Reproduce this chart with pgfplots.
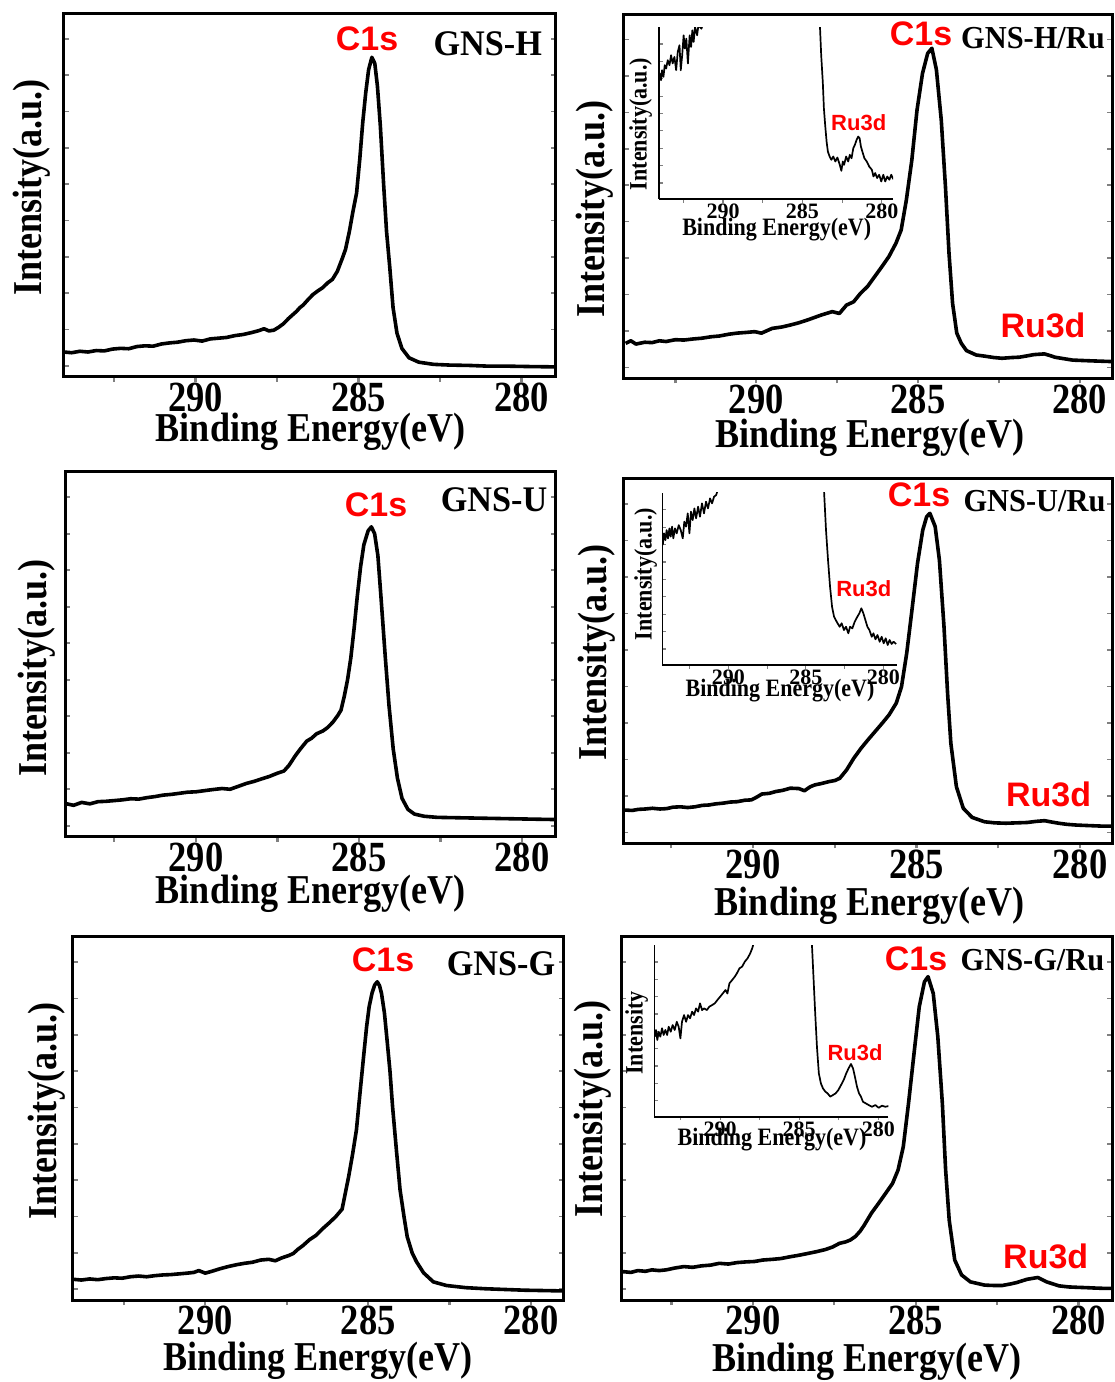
\documentclass[border=0pt]{standalone}
\usepackage{fontspec}
\usepackage{pgfplots}
\pgfplotsset{compat=1.18}
\newfontfamily\tnrT[FakeStretch=0.85]{Liberation Serif}
\newfontfamily\tnrL[FakeStretch=0.88]{Liberation Serif}
\newfontfamily\tnrG[FakeStretch=0.95]{Liberation Serif}
\newfontfamily\tnr{Liberation Serif}
\newfontfamily\arl{Liberation Sans}
\newcommand\tickf{\tnrT\bfseries\fontsize{43}{43}\selectfont}
\newcommand\labf{\tnrL\bfseries\fontsize{41}{41}\selectfont}
\newcommand\gnsL{\tnrG\bfseries\fontsize{36}{36}\selectfont}
\newcommand\gnsR{\tnrG\bfseries\fontsize{32}{32}\selectfont}
\newcommand\cls{\arl\bfseries\fontsize{34}{34}\selectfont}
\newcommand\itick{\tnr\bfseries\fontsize{22}{22}\selectfont}
\newcommand\ilab{\tnrL\bfseries\fontsize{25}{25}\selectfont}
\newcommand\iru{\arl\bfseries\fontsize{22}{22}\selectfont}
\pgfplotsset{
 mainax/.style={scale only axis, x dir=reverse, ymin=0, ymax=1, anchor=south west,
   axis line style={line width=3pt},
   xtick={280,282.5,285,287.5,290,292.5}, xticklabels={280,,285,,290,},
   xtick pos=bottom, ytick pos=both,
   ytick={0.03,0.13,0.23,0.33,0.43,0.53,0.63,0.73,0.83,0.93}, yticklabels={},
   tick align=inside, major tick length=5pt,
   xtick style={line width=2.2pt, yshift=-5pt}, ytick style={line width=1.6pt},
   xticklabel style={font=\tickf, inner sep=0pt, yshift=-6pt}},
 inax/.style={scale only axis, x dir=reverse, ymin=0, ymax=1, anchor=south west,
   axis x line*=bottom, axis y line*=left, axis line style={line width=1.6pt},
   xtick={280,282.5,285,287.5,290,292.5}, xticklabels={280,,285,,290,},
   ytick={0.093,0.194,0.295,0.396,0.497,0.598,0.699,0.8,0.901}, yticklabels={},
   tick align=inside, major tick length=3.5pt,
   xtick style={line width=1.2pt, yshift=-3.5pt}, ytick style={line width=1.2pt},
   xticklabel style={font=\itick, inner sep=0pt, yshift=-5pt}},
 spec/.style={black, line width=3.6pt, no markers, line join=round},
 ispec/.style={black, line width=1.7pt, no markers, line join=round},
}
\begin{document}
\begin{tikzpicture}
\useasboundingbox (0,0) rectangle (1115pt,-1382pt);
% ---------- Panel 1: GNS-H ----------
\begin{axis}[mainax, at={(63.6pt,-376.7pt)}, width=492.4pt, height=363.4pt, xmin=278.94, xmax=294.05]
\addplot[spec] coordinates {(294.05,0.068)(293.8,0.066)(293.55,0.070)(293.3,0.068)(293.05,0.072)(292.8,0.071)(292.55,0.076)(292.3,0.078)(292.05,0.077)(291.8,0.083)(291.55,0.085)(291.3,0.084)(291.05,0.090)(290.8,0.093)(290.55,0.095)(290.3,0.099)(290.05,0.101)(289.8,0.098)(289.55,0.104)(289.3,0.106)(289.05,0.108)(288.8,0.113)(288.55,0.116)(288.3,0.121)(288.05,0.127)(287.9,0.132)(287.75,0.126)(287.6,0.128)(287.45,0.136)(287.3,0.146)(287.15,0.160)(287.0,0.172)(286.9,0.180)(286.8,0.190)(286.7,0.197)(286.55,0.212)(286.4,0.226)(286.25,0.236)(286.1,0.245)(285.95,0.258)(285.8,0.268)(285.65,0.290)(285.5,0.325)(285.4,0.350)(285.28,0.400)(285.17,0.455)(285.06,0.505)(284.96,0.600)(284.87,0.700)(284.78,0.780)(284.69,0.845)(284.59,0.879)(284.5,0.862)(284.42,0.800)(284.33,0.690)(284.23,0.530)(284.14,0.400)(284.04,0.300)(283.94,0.190)(283.82,0.120)(283.67,0.078)(283.45,0.052)(283.15,0.040)(282.7,0.034)(282.2,0.032)(281.6,0.031)(281.0,0.029)(280.4,0.029)(279.8,0.028)(278.94,0.027)};
\end{axis}
% ---------- Panel 2: GNS-H/Ru ----------
\begin{axis}[mainax, at={(623.7pt,-378.3pt)}, width=488.3pt, height=364.3pt, xmin=279.0, xmax=294.1]
\addplot[spec] coordinates {(294.04,0.096)(293.88,0.103)(293.72,0.094)(293.45,0.099)(293.22,0.098)(293.0,0.103)(292.79,0.101)(292.5,0.106)(292.24,0.105)(291.95,0.108)(291.69,0.110)(291.4,0.114)(291.15,0.116)(290.85,0.121)(290.6,0.124)(290.3,0.126)(290.05,0.128)(289.84,0.124)(289.51,0.137)(289.2,0.141)(288.96,0.146)(288.7,0.152)(288.42,0.160)(288.2,0.167)(287.98,0.174)(287.65,0.183)(287.43,0.178)(287.21,0.201)(286.99,0.210)(286.78,0.233)(286.56,0.252)(286.34,0.279)(286.12,0.306)(285.9,0.334)(285.68,0.371)(285.52,0.407)(285.36,0.489)(285.19,0.599)(285.03,0.736)(284.86,0.837)(284.7,0.892)(284.57,0.906)(284.43,0.847)(284.28,0.709)(284.15,0.526)(284.04,0.343)(283.93,0.206)(283.8,0.124)(283.66,0.096)(283.5,0.076)(283.2,0.064)(282.95,0.061)(282.65,0.057)(282.4,0.055)(282.1,0.057)(281.86,0.058)(281.6,0.062)(281.42,0.065)(281.09,0.067)(280.9,0.062)(280.77,0.058)(280.5,0.054)(280.22,0.050)(279.95,0.049)(279.67,0.048)(279.35,0.047)(279.02,0.046)};
\end{axis}
% inset 1
\begin{axis}[inax, at={(659pt,-199pt)}, width=234pt, height=172pt, xmin=279.3, xmax=294.03]
\addplot[ispec] coordinates {(294.06,0.653)(293.99,0.730)(293.9,0.691)(293.84,0.749)(293.75,0.71)(293.67,0.778)(293.58,0.759)(293.48,0.807)(293.37,0.778)(293.27,0.836)(293.17,0.788)(293.06,0.826)(292.95,0.749)(292.85,0.855)(292.74,0.894)(292.66,0.749)(292.57,0.836)(292.48,0.952)(292.4,0.875)(292.31,0.932)(292.21,0.788)(292.1,0.952)(292.01,0.884)(291.93,0.981)(291.85,0.913)(291.76,1.0)(291.63,0.952)(291.55,1.01)(291.36,0.99)(291.25,1.02)(290.93,1.01)(290.61,1.01)(289.5,1.6)(284.6,6)(283.95,1.3)(283.91,1.03)(283.82,0.836)(283.72,0.681)(283.65,0.527)(283.57,0.43)(283.48,0.334)(283.4,0.276)(283.29,0.247)(283.18,0.228)(283.06,0.247)(282.93,0.218)(282.8,0.241)(282.65,0.199)(282.55,0.164)(282.46,0.218)(282.38,0.199)(282.25,0.247)(282.12,0.218)(282.02,0.257)(281.91,0.237)(281.8,0.295)(281.7,0.315)(281.59,0.344)(281.49,0.363)(281.4,0.353)(281.32,0.305)(281.23,0.276)(281.1,0.237)(280.95,0.218)(280.8,0.189)(280.63,0.17)(280.53,0.131)(280.42,0.151)(280.3,0.122)(280.17,0.141)(280.04,0.102)(279.91,0.141)(279.79,0.102)(279.66,0.131)(279.53,0.112)(279.41,0.141)(279.3,0.118)(279.19,0.131)};
\end{axis}
% ---------- Panel 3: GNS-U ----------
\begin{axis}[mainax, at={(65.4pt,-836.7pt)}, width=490.6pt, height=365pt, xmin=278.96, xmax=294.0]
\addplot[spec] coordinates {(294.0,0.091)(293.75,0.086)(293.5,0.094)(293.25,0.090)(293.0,0.096)(292.75,0.097)(292.5,0.099)(292.25,0.101)(292.0,0.104)(291.75,0.103)(291.5,0.107)(291.25,0.110)(291.0,0.114)(290.75,0.116)(290.5,0.119)(290.25,0.122)(290.0,0.123)(289.75,0.126)(289.5,0.129)(289.2,0.132)(288.95,0.130)(288.7,0.138)(288.45,0.146)(288.2,0.152)(288.0,0.158)(287.75,0.165)(287.5,0.174)(287.3,0.180)(287.15,0.195)(286.95,0.222)(286.8,0.240)(286.6,0.262)(286.45,0.270)(286.3,0.282)(286.1,0.290)(285.95,0.300)(285.8,0.314)(285.65,0.332)(285.55,0.347)(285.45,0.385)(285.35,0.430)(285.25,0.490)(285.15,0.570)(285.05,0.660)(284.95,0.740)(284.85,0.800)(284.72,0.838)(284.62,0.849)(284.52,0.830)(284.42,0.770)(284.32,0.650)(284.2,0.500)(284.08,0.360)(283.95,0.240)(283.82,0.160)(283.68,0.105)(283.5,0.075)(283.3,0.062)(283.0,0.056)(282.6,0.053)(282.0,0.052)(281.4,0.051)(280.8,0.050)(280.2,0.049)(279.6,0.048)(278.96,0.047)};
\end{axis}
% ---------- Panel 4: GNS-U/Ru ----------
\begin{axis}[mainax, at={(623pt,-843.3pt)}, width=489pt, height=365pt, xmin=279.02, xmax=293.98]
\addplot[spec] coordinates {(293.98,0.090)(293.89,0.091)(293.7,0.090)(293.51,0.093)(293.3,0.094)(293.08,0.096)(292.85,0.094)(292.65,0.095)(292.45,0.099)(292.22,0.100)(292.0,0.098)(291.78,0.100)(291.55,0.104)(291.35,0.105)(291.15,0.108)(290.92,0.110)(290.7,0.113)(290.49,0.114)(290.25,0.118)(290.05,0.119)(289.9,0.126)(289.73,0.135)(289.5,0.137)(289.3,0.142)(289.1,0.145)(288.86,0.151)(288.6,0.150)(288.43,0.144)(288.25,0.155)(288.11,0.160)(287.9,0.164)(287.68,0.169)(287.5,0.172)(287.35,0.178)(287.14,0.201)(286.92,0.233)(286.7,0.260)(286.49,0.283)(286.27,0.306)(286.05,0.329)(285.84,0.352)(285.62,0.384)(285.46,0.429)(285.3,0.521)(285.14,0.639)(284.97,0.767)(284.81,0.858)(284.69,0.895)(284.59,0.904)(284.43,0.868)(284.3,0.776)(284.16,0.594)(284.05,0.411)(283.95,0.274)(283.78,0.155)(283.57,0.096)(283.3,0.071)(282.92,0.059)(282.6,0.056)(282.27,0.055)(281.95,0.056)(281.62,0.057)(281.35,0.060)(281.08,0.062)(280.85,0.058)(280.65,0.055)(280.4,0.052)(280.11,0.050)(279.85,0.049)(279.57,0.048)(279.3,0.047)(279.02,0.047)};
\end{axis}
% inset 2
\begin{axis}[inax, at={(662.3pt,-665pt)}, width=234.4pt, height=172.3pt, xmin=279.14, xmax=294.26]
\addplot[ispec] coordinates {(294.23,0.696)(294.15,0.764)(294.06,0.725)(293.98,0.783)(293.89,0.735)(293.8,0.793)(293.72,0.745)(293.63,0.803)(293.55,0.735)(293.44,0.793)(293.33,0.764)(293.2,0.812)(293.07,0.783)(292.94,0.735)(292.84,0.832)(292.73,0.803)(292.62,0.88)(292.51,0.764)(292.41,0.89)(292.3,0.841)(292.19,0.909)(292.08,0.851)(291.95,0.919)(291.83,0.861)(291.7,0.938)(291.57,0.88)(291.44,0.948)(291.31,0.909)(291.18,0.967)(291.05,0.938)(290.92,0.977)(290.79,0.986)(290.64,1.025)(290.0,1.4)(284.6,6)(284.0,1.3)(283.83,1.015)(283.7,0.783)(283.57,0.609)(283.44,0.455)(283.31,0.338)(283.18,0.28)(283.01,0.251)(282.82,0.222)(282.69,0.242)(282.54,0.203)(282.41,0.222)(282.26,0.184)(282.15,0.222)(282.0,0.213)(281.85,0.251)(281.68,0.28)(281.55,0.3)(281.42,0.329)(281.29,0.3)(281.16,0.261)(281.03,0.222)(280.9,0.203)(280.75,0.164)(280.64,0.184)(280.51,0.149)(280.38,0.174)(280.24,0.135)(280.11,0.164)(279.98,0.126)(279.85,0.155)(279.72,0.116)(279.6,0.145)(279.47,0.122)(279.34,0.135)(279.18,0.122)};
\end{axis}
% ---------- Panel 5: GNS-G ----------
\begin{axis}[mainax, at={(72.7pt,-1300pt)}, width=490.9pt, height=363.3pt, xmin=279.0, xmax=294.07]
\addplot[spec] coordinates {(294.05,0.057)(293.8,0.055)(293.55,0.058)(293.3,0.056)(293.05,0.059)(292.8,0.061)(292.55,0.060)(292.3,0.064)(292.05,0.066)(291.8,0.064)(291.55,0.067)(291.3,0.069)(291.05,0.070)(290.8,0.072)(290.55,0.074)(290.35,0.076)(290.2,0.081)(290.0,0.074)(289.8,0.079)(289.55,0.086)(289.3,0.092)(289.05,0.097)(288.8,0.101)(288.55,0.104)(288.3,0.110)(288.05,0.112)(287.85,0.108)(287.65,0.116)(287.45,0.122)(287.3,0.128)(287.15,0.140)(287.0,0.150)(286.8,0.166)(286.6,0.178)(286.4,0.196)(286.2,0.212)(286.0,0.229)(285.8,0.250)(285.6,0.339)(285.48,0.400)(285.36,0.468)(285.25,0.570)(285.14,0.670)(285.05,0.750)(284.97,0.807)(284.88,0.845)(284.8,0.867)(284.72,0.876)(284.65,0.865)(284.59,0.844)(284.5,0.790)(284.42,0.716)(284.33,0.630)(284.25,0.532)(284.13,0.410)(284.02,0.303)(283.9,0.230)(283.8,0.174)(283.65,0.130)(283.52,0.106)(283.3,0.075)(283.0,0.050)(282.6,0.040)(282.0,0.034)(281.4,0.031)(280.8,0.029)(280.2,0.027)(279.6,0.026)(279.0,0.025)};
\end{axis}
% ---------- Panel 6: GNS-G/Ru ----------
\begin{axis}[mainax, at={(621pt,-1300pt)}, width=491pt, height=363.3pt, xmin=278.97, xmax=294.05]
\addplot[spec] coordinates {(294.05,0.076)(293.97,0.078)(293.75,0.076)(293.53,0.081)(293.3,0.079)(293.1,0.083)(292.88,0.081)(292.66,0.083)(292.4,0.088)(292.12,0.092)(291.85,0.090)(291.58,0.094)(291.3,0.096)(291.03,0.101)(290.75,0.099)(290.49,0.103)(290.2,0.105)(289.95,0.106)(289.7,0.110)(289.4,0.112)(289.15,0.114)(288.86,0.119)(288.6,0.123)(288.32,0.128)(288.05,0.133)(287.77,0.139)(287.55,0.146)(287.34,0.156)(287.15,0.160)(287.01,0.165)(286.85,0.175)(286.7,0.190)(286.58,0.206)(286.36,0.239)(286.14,0.266)(285.92,0.294)(285.71,0.321)(285.54,0.358)(285.38,0.422)(285.22,0.541)(285.05,0.679)(284.89,0.807)(284.73,0.876)(284.62,0.890)(284.46,0.844)(284.32,0.725)(284.18,0.541)(284.08,0.358)(283.97,0.220)(283.8,0.110)(283.59,0.069)(283.32,0.050)(282.88,0.041)(282.6,0.040)(282.34,0.040)(282.1,0.044)(281.9,0.048)(281.58,0.057)(281.25,0.062)(280.98,0.050)(280.6,0.039)(280.3,0.036)(280.05,0.035)(279.75,0.034)(279.51,0.033)(279.2,0.032)(278.97,0.032)};
\end{axis}
% inset 3
\begin{axis}[inax, at={(654.3pt,-1116.7pt)}, width=234pt, height=171.7pt, xmin=279.37, xmax=294.16]
\addplot[ispec] coordinates {(294.13,0.466)(294.05,0.505)(293.97,0.447)(293.88,0.495)(293.78,0.466)(293.67,0.515)(293.57,0.476)(293.46,0.505)(293.35,0.476)(293.25,0.524)(293.12,0.495)(293.0,0.534)(292.87,0.505)(292.74,0.553)(292.62,0.524)(292.51,0.456)(292.41,0.553)(292.28,0.592)(292.15,0.553)(292.03,0.592)(291.9,0.573)(291.77,0.612)(291.65,0.592)(291.52,0.631)(291.39,0.612)(291.27,0.66)(291.14,0.621)(291.01,0.631)(290.84,0.621)(290.68,0.641)(290.51,0.65)(290.34,0.66)(290.17,0.68)(290.0,0.699)(289.83,0.718)(289.66,0.738)(289.54,0.718)(289.41,0.777)(289.24,0.796)(289.07,0.816)(288.94,0.835)(288.78,0.864)(288.61,0.874)(288.44,0.903)(288.27,0.922)(288.1,0.951)(287.97,0.981)(287.85,1.02)(287.0,1.5)(284.6,6)(284.3,1.5)(284.2,1.01)(284.09,0.796)(283.99,0.602)(283.88,0.408)(283.76,0.252)(283.63,0.194)(283.5,0.165)(283.35,0.146)(283.21,0.136)(283.04,0.117)(282.87,0.126)(282.7,0.136)(282.53,0.155)(282.36,0.184)(282.19,0.214)(282.03,0.252)(281.88,0.282)(281.73,0.307)(281.6,0.282)(281.48,0.233)(281.35,0.175)(281.22,0.136)(281.1,0.117)(280.97,0.087)(280.8,0.078)(280.61,0.068)(280.4,0.058)(280.19,0.068)(279.98,0.052)(279.77,0.064)(279.56,0.058)(279.35,0.062)};
\end{axis}
% ---------- texts ----------
\tikzset{every node/.style={inner sep=0pt, outer sep=0pt}}
% panel 1
\node[font=\cls, text=red, anchor=base] at (367pt,-50pt) {C1s};
\node[font=\gnsL, anchor=base] at (487.7pt,-55pt) {GNS-H};
\node[font=\labf, anchor=base] at (310.7pt,-441.7pt) {Binding Energy(eV)};
\node[font=\labf, anchor=base, rotate=90] at (41pt,-187.5pt) {Intensity(a.u.)};
% panel 2
\node[font=\cls, text=red, anchor=base] at (921pt,-45pt) {C1s};
\node[font=\gnsR, anchor=base] at (1033pt,-48pt) {GNS-H/Ru};
\node[font=\cls, text=red, anchor=base] at (1043pt,-337pt) {Ru3d};
\node[font=\labf, anchor=base] at (870pt,-447pt) {Binding Energy(eV)};
\node[font=\labf, anchor=base, rotate=90] at (604pt,-209pt) {Intensity(a.u.)};
\node[font=\ilab, anchor=base, rotate=90] at (646.7pt,-124pt) {Intensity(a.u.)};
\node[font=\ilab, anchor=base] at (776.7pt,-235pt) {Binding Energy(eV)};
\node[font=\iru, text=red, anchor=base] at (858.7pt,-130pt) {Ru3d};
% panel 3
\node[font=\cls, text=red, anchor=base] at (376pt,-516.7pt) {C1s};
\node[font=\gnsL, anchor=base] at (494pt,-511.7pt) {GNS-U};
\node[font=\labf, anchor=base] at (310.7pt,-903pt) {Binding Energy(eV)};
\node[font=\labf, anchor=base, rotate=90] at (46.4pt,-668pt) {Intensity(a.u.)};
% panel 4
\node[font=\cls, text=red, anchor=base] at (919pt,-506.7pt) {C1s};
\node[font=\gnsR, anchor=base] at (1034.5pt,-511.7pt) {GNS-U/Ru};
\node[font=\cls, text=red, anchor=base] at (1048.6pt,-806.7pt) {Ru3d};
\node[font=\labf, anchor=base] at (869.7pt,-915pt) {Binding Energy(eV)};
\node[font=\labf, anchor=base, rotate=90] at (606pt,-652.5pt) {Intensity(a.u.)};
\node[font=\ilab, anchor=base, rotate=90] at (651.7pt,-574pt) {Intensity(a.u.)};
\node[font=\ilab, anchor=base] at (780pt,-696.7pt) {Binding Energy(eV)};
\node[font=\iru, text=red, anchor=base] at (863.8pt,-596.7pt) {Ru3d};
% panel 5
\node[font=\cls, text=red, anchor=base] at (383pt,-971.7pt) {C1s};
\node[font=\gnsL, anchor=base] at (501pt,-975pt) {GNS-G};
\node[font=\labf, anchor=base] at (318pt,-1370pt) {Binding Energy(eV)};
\node[font=\labf, anchor=base, rotate=90] at (56pt,-1111pt) {Intensity(a.u.)};
% panel 6
\node[font=\cls, text=red, anchor=base] at (916pt,-970pt) {C1s};
\node[font=\gnsR, anchor=base] at (1032.5pt,-970pt) {GNS-G/Ru};
\node[font=\cls, text=red, anchor=base] at (1045.7pt,-1268.3pt) {Ru3d};
\node[font=\labf, anchor=base] at (867pt,-1371.7pt) {Binding Energy(eV)};
\node[font=\labf, anchor=base, rotate=90] at (602.5pt,-1109pt) {Intensity(a.u.)};
\node[font=\ilab, anchor=base, rotate=90] at (642.7pt,-1033pt) {Intensity};
\node[font=\ilab, anchor=base] at (772pt,-1145pt) {Binding Energy(eV)};
\node[font=\iru, text=red, anchor=base] at (855pt,-1060pt) {Ru3d};
\end{tikzpicture}
\end{document}
